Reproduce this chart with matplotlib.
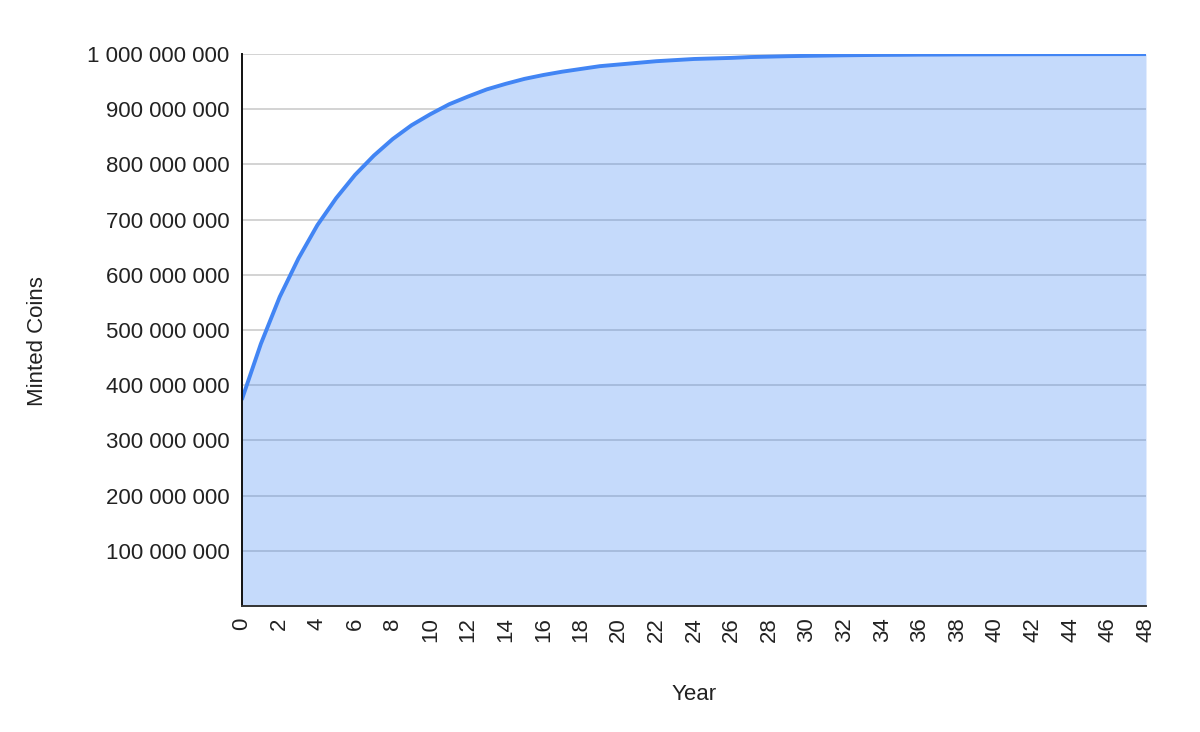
import matplotlib
matplotlib.use("Agg")
import matplotlib.pyplot as plt
from matplotlib.ticker import FuncFormatter

plt.rcParams['font.family'] = ['Liberation Sans', 'DejaVu Sans']

years = list(range(0, 49))
minted_millions = [375, 475, 560, 630, 690, 739, 781, 816, 846, 871,
                   891, 909, 923, 936, 946, 955, 962, 968, 973, 978,
                   981, 984, 987, 989, 991, 992, 993, 994.5, 995.3, 996.1,
                   996.7, 997.2, 997.7, 998.1, 998.4, 998.6, 998.9, 999.0, 999.2, 999.3,
                   999.4, 999.5, 999.6, 999.65, 999.7, 999.75, 999.8, 999.83, 999.85]
minted = [v * 1e6 for v in minted_millions]

y_ticks = [100e6 * i for i in range(1, 11)]
x_ticks = list(range(0, 49, 2))

fig = plt.figure(figsize=(12, 7.32), dpi=100)
ax = fig.add_axes([0.2017, 0.1721, 0.9550 - 0.2017, 0.9262 - 0.1721])

line_color = '#4285f4'
ax.fill_between(years, minted, 0, color=line_color, alpha=0.3, linewidth=0, zorder=2)
ax.plot(years, minted, color=line_color, linewidth=2.8, zorder=3,
        solid_capstyle='round', solid_joinstyle='round')

ax.set_xlim(0, 48)
ax.set_ylim(0, 1e9)
ax.set_yticks(y_ticks)
ax.set_xticks(x_ticks)
ax.yaxis.set_major_formatter(FuncFormatter(lambda v, p: f"{int(round(v)):,}".replace(",", " ")))
ax.grid(axis='y', color='#cccccc', linewidth=1.2, zorder=1)
ax.set_axisbelow(True)

for s in ['top', 'right']:
    ax.spines[s].set_visible(False)
ax.spines['left'].set_color('#111111')
ax.spines['left'].set_linewidth(1.4)
ax.spines['bottom'].set_color('#333333')
ax.spines['bottom'].set_linewidth(1.4)
ax.spines['left'].set_zorder(4)
ax.spines['bottom'].set_zorder(4)

fs = 16
ax.tick_params(axis='y', length=0, pad=9, labelsize=fs, labelcolor='#222222')
ax.tick_params(axis='x', length=0, pad=8, labelsize=fs, labelcolor='#222222', labelrotation=90)

ax.set_xlabel('Year', fontsize=fs, color='#222222', labelpad=30)
ax.set_ylabel('Minted Coins', fontsize=fs, color='#222222', labelpad=18)
ax.yaxis.set_label_coords(-0.215, 0.48)

fig.savefig('out.png', dpi=100, facecolor='white')
